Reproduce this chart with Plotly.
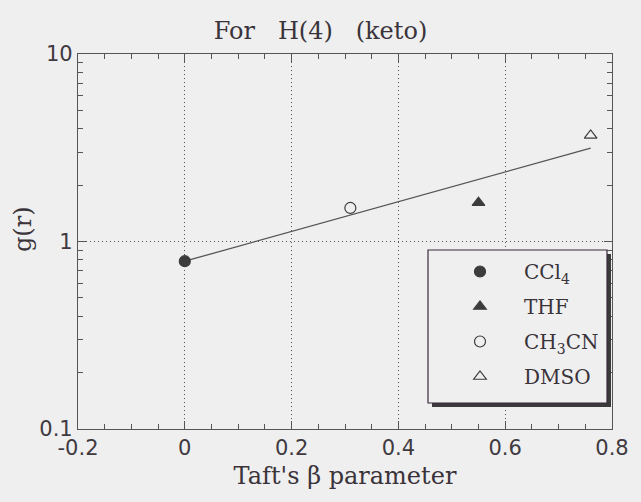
import plotly.graph_objects as go

# ---- data ----
solvents = ["CCl<sub>4</sub>", "THF", "CH<sub>3</sub>CN", "DMSO"]
beta = [0.0, 0.55, 0.31, 0.76]
g_r = [0.785, 1.61, 1.51, 3.68]
symbols = ["circle", "triangle-up", "circle-open", "triangle-up-open"]
fit_x = [0.0, 0.76]
fit_y = [0.785, 3.15]
x_ticks = [-0.2, 0, 0.2, 0.4, 0.6, 0.8]
x_ticktext = ["-0.2", "0", "0.2", "0.4", "0.6", "0.8"]
y_ticks = [0.1, 1, 10]
y_ticktext = ["0.1", "1", "10"]

W, H = 641, 502
L, R, T, B = 78, 29, 54, 73
PW, PH = W - L - R, H - T - B
BG = "#efefef"
INK = "#3c3c3c"
TXT = "#3a333a"
SERIF = "DejaVu Serif, Liberation Serif, serif"
SANS = "DejaVu Sans, Liberation Sans, sans-serif"


def px(xp):
    return (xp - L) / PW


def py(yp):
    return (H - B - yp) / PH


fig = go.Figure()
fig.add_trace(go.Scatter(x=fit_x, y=fit_y, mode="lines",
                         line=dict(color="#555555", width=1.3),
                         showlegend=False, hoverinfo="skip"))
for name, xv, yv, sym in zip(solvents, beta, g_r, symbols):
    fig.add_trace(go.Scatter(
        x=[xv], y=[yv], mode="markers", name=name, legendgroup=name,
        marker=dict(symbol=sym, size=11, color=INK,
                    line=dict(color=INK, width=1.2)),
    ))

# legend box with shadow
bx0, bx1, by0, by1 = 428, 607, 250, 403
fig.add_shape(type="rect", xref="paper", yref="paper",
              x0=px(bx0 + 4), x1=px(bx1 + 4), y0=py(by1 + 4), y1=py(by0 + 4),
              fillcolor="#3a3a3a", line=dict(width=0), layer="above")
fig.add_shape(type="rect", xref="paper", yref="paper",
              x0=px(bx0), x1=px(bx1), y0=py(by1), y1=py(by0),
              fillcolor=BG, line=dict(color="#3a2a3a", width=1.2), layer="above")

axis_common = dict(showline=True, linecolor="#555555", linewidth=1.2,
                   mirror="allticks", ticks="inside", tickcolor="#555555",
                   zeroline=False, gridcolor="#555555", griddash="1px,3px",
                   gridwidth=1, tickfont=dict(family=SANS, size=21, color="#403a40"))

fig.update_xaxes(range=[-0.2, 0.8], tickvals=x_ticks, ticktext=x_ticktext,
                 ticklen=8, tickwidth=1,
                 minor=dict(dtick=0.05, ticklen=5, ticks="inside", tickcolor="#555555"),
                 title=dict(text="Taft's β parameter",
                            font=dict(family=SERIF, size=24, color=TXT),
                            standoff=7),
                 **axis_common)
fig.update_yaxes(type="log", range=[-1, 1], tickvals=y_ticks, ticktext=y_ticktext,
                 ticklen=8, tickwidth=1,
                 minor=dict(ticks="inside", ticklen=5, tickcolor="#555555",
                            tickvals=[0.2, 0.3, 0.4, 0.5, 0.6, 0.7, 0.8, 0.9,
                                      2, 3, 4, 5, 6, 7, 8, 9]),
                 **axis_common)

# y-axis title (placed slightly above centre, as in the original)
fig.add_annotation(text="g(r)", xref="paper", yref="paper",
                   x=px(23), y=py(229), xanchor="center", yanchor="middle",
                   textangle=-90, showarrow=False,
                   font=dict(family=SERIF, size=24, color=TXT))

fig.update_layout(
    width=W, height=H,
    margin=dict(l=L, r=R, t=T, b=B),
    paper_bgcolor=BG, plot_bgcolor=BG,
    title=dict(text="For   H(4)   (keto)", x=0.5, xanchor="center",
               y=1 - 31 / H, yanchor="middle",
               font=dict(family=SERIF, size=24, color=TXT)),
    legend=dict(x=px(436), y=py(252), xanchor="left", yanchor="top",
                bgcolor="rgba(0,0,0,0)", borderwidth=0,
                font=dict(family=SERIF, size=20, color=TXT),
                tracegroupgap=6, itemwidth=78),
    showlegend=True,
)

fig.write_html("out.html", post_script="document.body.style.margin='0';",
               config={"displayModeBar": False})
